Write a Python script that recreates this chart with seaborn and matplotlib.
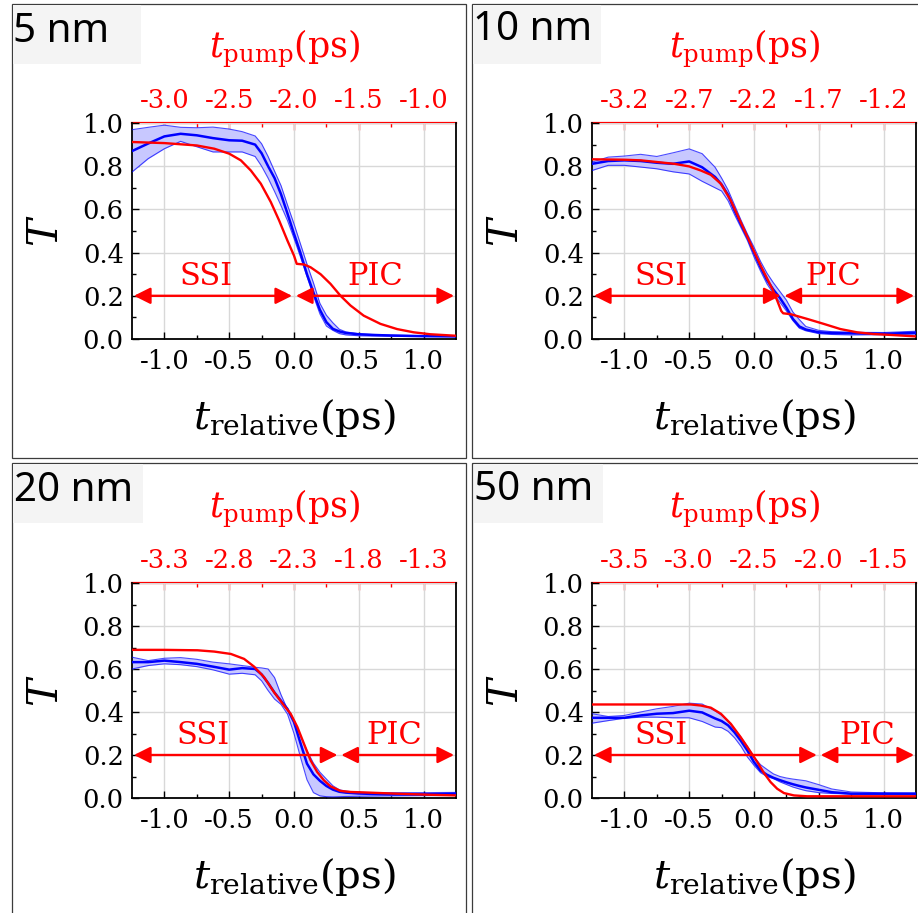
import numpy as np
import matplotlib
matplotlib.use("Agg")
import matplotlib.pyplot as plt
import seaborn as sns
from matplotlib.patches import Rectangle

# ---------------------------------------------------------------------------
# Data
# ---------------------------------------------------------------------------
panel_labels = ["5 nm", "10 nm", "20 nm", "50 nm"]
pump_offsets = [-2.0, -2.2, -2.3, -2.5]          # t_pump = t_relative + offset
region_bounds = [0.0, 0.22, 0.35, 0.5]           # SSI / PIC boundary (ps)
ssi_label_x = [-0.68, -0.72, -0.70, -0.72]
pic_label_x = [0.63, 0.61, 0.77, 0.87]

x_major = [-1.0, -0.5, 0.0, 0.5, 1.0]
x_major_labels = ["-1.0", "-0.5", "0.0", "0.5", "1.0"]
x_minor = [-0.75, -0.25, 0.25, 0.75]
y_major = [0.0, 0.2, 0.4, 0.6, 0.8, 1.0]
y_major_labels = ["0.0", "0.2", "0.4", "0.6", "0.8", "1.0"]
y_minor = [0.1, 0.3, 0.5, 0.7, 0.9]

# time grid of the measured (blue) curves
t_meas = [-1.25, -1.125, -1.0, -0.875, -0.75, -0.625, -0.5, -0.4, -0.3, -0.25,
          -0.2, -0.15, -0.1, -0.05, 0.0, 0.05, 0.1, 0.15, 0.2, 0.25, 0.3,
          0.35, 0.4, 0.5, 0.6, 0.75, 1.0, 1.25]

# 5 nm
meas_mean_5 = [0.87, 0.905, 0.938, 0.95, 0.943, 0.93, 0.92, 0.918, 0.90, 0.86,
               0.80, 0.745, 0.67, 0.58, 0.487, 0.398, 0.30, 0.215, 0.135, 0.078,
               0.047, 0.035, 0.028, 0.022, 0.019, 0.016, 0.013, 0.012]
meas_hi_5 = [0.969, 0.98, 0.99, 0.98, 0.978, 0.981, 0.972, 0.96, 0.94, 0.904,
             0.845, 0.777, 0.71, 0.62, 0.533, 0.44, 0.347, 0.26, 0.165, 0.11,
             0.075, 0.045, 0.033, 0.024, 0.021, 0.018, 0.015, 0.013]
meas_lo_5 = [0.773, 0.835, 0.881, 0.915, 0.89, 0.866, 0.866, 0.866, 0.845, 0.80,
             0.745, 0.683, 0.617, 0.548, 0.466, 0.38, 0.29, 0.20, 0.116, 0.06,
             0.04, 0.025, 0.019, 0.015, 0.014, 0.013, 0.012, 0.011]
model_t_5 = [-1.25, -1.0, -0.75, -0.615, -0.5, -0.41, -0.333, -0.256, -0.179,
             -0.115, -0.051, 0.0, 0.021, 0.077, 0.128, 0.205, 0.282, 0.359,
             0.436, 0.538, 0.667, 0.795, 0.923, 1.051, 1.25]
model_T_5 = [0.912, 0.907, 0.896, 0.881, 0.858, 0.827, 0.78, 0.719, 0.634,
             0.549, 0.456, 0.386, 0.348, 0.345, 0.332, 0.30, 0.255, 0.20,
             0.155, 0.108, 0.07, 0.046, 0.031, 0.022, 0.015]

# 10 nm
meas_mean_10 = [0.811, 0.824, 0.827, 0.824, 0.816, 0.811, 0.822, 0.795, 0.75, 0.715,
                0.667, 0.595, 0.53, 0.47, 0.40, 0.333, 0.273, 0.228, 0.19, 0.145,
                0.093, 0.058, 0.044, 0.031, 0.028, 0.027, 0.024, 0.029]
meas_hi_10 = [0.819, 0.842, 0.847, 0.855, 0.845, 0.862, 0.88, 0.858, 0.795, 0.745,
              0.69, 0.62, 0.55, 0.485, 0.425, 0.36, 0.305, 0.26, 0.22, 0.18,
              0.125, 0.09, 0.058, 0.04, 0.034, 0.031, 0.03, 0.036]
meas_lo_10 = [0.78, 0.804, 0.804, 0.796, 0.788, 0.774, 0.764, 0.73, 0.70, 0.685,
              0.64, 0.575, 0.515, 0.455, 0.38, 0.315, 0.255, 0.21, 0.17, 0.13,
              0.085, 0.05, 0.038, 0.025, 0.021, 0.019, 0.02, 0.023]
model_t_10 = [-1.25, -1.0, -0.872, -0.744, -0.615, -0.5, -0.41, -0.333, -0.256,
              -0.179, -0.103, -0.026, 0.051, 0.103, 0.141, 0.179, 0.21, 0.225,
              0.282, 0.41, 0.538, 0.667, 0.795, 0.923, 1.051, 1.25]
model_T_10 = [0.832, 0.83, 0.827, 0.819, 0.811, 0.799, 0.78, 0.76, 0.719,
              0.641, 0.541, 0.44, 0.34, 0.278, 0.232, 0.178, 0.13, 0.119,
              0.115, 0.093, 0.07, 0.046, 0.031, 0.023, 0.019, 0.012]

# 20 nm
meas_mean_20 = [0.632, 0.632, 0.639, 0.632, 0.624, 0.611, 0.597, 0.604, 0.60, 0.575,
                0.535, 0.49, 0.452, 0.414, 0.353, 0.255, 0.16, 0.11, 0.08, 0.056,
                0.039, 0.029, 0.025, 0.021, 0.019, 0.017, 0.017, 0.02]
meas_hi_20 = [0.655, 0.639, 0.65, 0.653, 0.645, 0.632, 0.624, 0.616, 0.608, 0.605,
              0.60, 0.56, 0.48, 0.412, 0.36, 0.29, 0.22, 0.162, 0.12, 0.088,
              0.057, 0.038, 0.032, 0.026, 0.025, 0.025, 0.025, 0.026]
meas_lo_20 = [0.60, 0.616, 0.624, 0.62, 0.611, 0.596, 0.576, 0.58, 0.573, 0.545,
              0.50, 0.46, 0.435, 0.39, 0.30, 0.19, 0.085, 0.025, 0.01, 0.006,
              0.005, 0.006, 0.007, 0.008, 0.009, 0.01, 0.011, 0.012]
model_t_20 = [-1.25, -1.0, -0.744, -0.615, -0.487, -0.385, -0.308, -0.231, -0.154,
              -0.077, -0.026, 0.026, 0.077, 0.128, 0.179, 0.231, 0.282, 0.359,
              0.436, 0.538, 0.795, 1.051, 1.25]
model_T_20 = [0.689, 0.689, 0.687, 0.681, 0.67, 0.647, 0.611, 0.562, 0.492,
              0.43, 0.392, 0.33, 0.252, 0.175, 0.121, 0.082, 0.054, 0.033,
              0.028, 0.026, 0.02, 0.015, 0.012]

# 50 nm
meas_mean_50 = [0.373, 0.373, 0.373, 0.384, 0.392, 0.395, 0.406, 0.398, 0.37, 0.358,
                0.338, 0.305, 0.265, 0.22, 0.167, 0.128, 0.108, 0.094, 0.083, 0.073,
                0.064, 0.056, 0.049, 0.038, 0.027, 0.02, 0.02, 0.02]
meas_hi_50 = [0.392, 0.379, 0.384, 0.40, 0.415, 0.426, 0.441, 0.437, 0.405, 0.385,
              0.357, 0.32, 0.282, 0.24, 0.19, 0.155, 0.133, 0.112, 0.10, 0.093,
              0.088, 0.084, 0.08, 0.062, 0.042, 0.028, 0.024, 0.023]
meas_lo_50 = [0.348, 0.36, 0.371, 0.376, 0.376, 0.373, 0.373, 0.356, 0.33, 0.327,
              0.31, 0.28, 0.24, 0.19, 0.152, 0.118, 0.10, 0.09, 0.075, 0.063,
              0.051, 0.042, 0.034, 0.025, 0.021, 0.019, 0.018, 0.017]
model_t_50 = [-1.25, -0.487, -0.41, -0.333, -0.256, -0.179, -0.103, -0.026, 0.026,
              0.077, 0.128, 0.179, 0.231, 0.308, 0.41, 1.25]
model_T_50 = [0.435, 0.435, 0.43, 0.42, 0.392, 0.345, 0.283, 0.214, 0.167,
              0.116, 0.074, 0.043, 0.023, 0.012, 0.008, 0.008]

meas_mean = [meas_mean_5, meas_mean_10, meas_mean_20, meas_mean_50]
meas_hi = [meas_hi_5, meas_hi_10, meas_hi_20, meas_hi_50]
meas_lo = [meas_lo_5, meas_lo_10, meas_lo_20, meas_lo_50]
model_t = [model_t_5, model_t_10, model_t_20, model_t_50]
model_T = [model_T_5, model_T_10, model_T_20, model_T_50]

# ---------------------------------------------------------------------------
# Style
# ---------------------------------------------------------------------------
sns.set_theme(style="white")
plt.rcParams["font.family"] = ["DejaVu Serif"]
plt.rcParams["mathtext.fontset"] = "dejavuserif"

W, H = 918, 913
fig = plt.figure(figsize=(W / 100, H / 100), dpi=100)
fig.patch.set_facecolor("white")


def fx(px):
    return px / W


def fy(py):
    return 1 - py / H


RED = "#ff0000"
BLUE = "#0000ff"
FILL = "#c8c8ff"
GRID = "#d8d8d8"
TICK_FS = 18.5

# panel layout in pixels: (axes left, axes top, axes bottom)
axes_px = [(132, 123, 339), (592, 123, 339), (132, 583, 798), (592, 583, 798)]
frame_px = [(12, 4, 466, 458.5), (472, 4, 930, 458.5),
            (12, 463.5, 466, 930), (472, 463.5, 930, 930)]
tagbox_px = [(13, 5, 141, 64), (473, 5, 601, 64),
             (13, 464, 143, 523), (474, 464, 603, 523)]
tag_text_px = [(13, 42), (473, 40), (14, 501), (474, 500)]

for i in range(4):
    # framing box around each panel
    x0, y0, x1, y1 = frame_px[i]
    fig.add_artist(Rectangle((fx(x0), fy(y1)), fx(x1) - fx(x0), fy(y0) - fy(y1),
                             transform=fig.transFigure, fill=False,
                             edgecolor="#3c3c3c", linewidth=0.9, zorder=0))
    # shaded tag box with thickness label
    bx0, by0, bx1, by1 = tagbox_px[i]
    fig.add_artist(Rectangle((fx(bx0), fy(by1)), fx(bx1) - fx(bx0), fy(by0) - fy(by1),
                             transform=fig.transFigure, facecolor="#f4f4f4",
                             edgecolor="none", zorder=0))
    tx, ty = tag_text_px[i]
    fig.text(fx(tx), fy(ty), panel_labels[i], family=["Noto Sans", "DejaVu Sans"],
             fontsize=29, color="black", ha="left", va="baseline")

    left, top, bottom = axes_px[i]
    ax = fig.add_axes([fx(left), fy(bottom), 324 / W, (bottom - top) / H])
    ax.set_facecolor("white")

    t = np.array(t_meas)
    ax.fill_between(t, meas_lo[i], meas_hi[i], color=FILL, linewidth=0, zorder=2)
    sns.lineplot(x=t, y=meas_hi[i], ax=ax, color=BLUE, linewidth=0.8, alpha=0.7,
                 estimator=None, sort=False, zorder=3)
    sns.lineplot(x=t, y=meas_lo[i], ax=ax, color=BLUE, linewidth=0.8, alpha=0.7,
                 estimator=None, sort=False, zorder=3)
    sns.lineplot(x=t, y=meas_mean[i], ax=ax, color=BLUE, linewidth=1.8,
                 estimator=None, sort=False, zorder=4)
    sns.lineplot(x=model_t[i], y=model_T[i], ax=ax, color=RED, linewidth=1.7,
                 estimator=None, sort=False, zorder=5)

    # SSI / PIC region arrows
    b = region_bounds[i]
    arrow_kw = dict(arrowstyle="<|-|>,head_length=1.0,head_width=0.5", color=RED,
                    lw=1.7, mutation_scale=10, shrinkA=0, shrinkB=0)
    ax.annotate("", xy=(b - 0.015, 0.2), xytext=(-1.235, 0.2),
                arrowprops=arrow_kw, zorder=6)
    ax.annotate("", xy=(1.235, 0.2), xytext=(b + 0.015, 0.2),
                arrowprops=arrow_kw, zorder=6)
    ax.text(ssi_label_x[i], 0.25, "SSI", color=RED, fontsize=22,
            ha="center", va="baseline", zorder=6)
    ax.text(pic_label_x[i], 0.25, "PIC", color=RED, fontsize=22,
            ha="center", va="baseline", zorder=6)

    ax.set_xlim(-1.25, 1.25)
    ax.set_ylim(0.0, 1.0)
    ax.set_xticks(x_major, x_major_labels)
    ax.set_xticks(x_minor, minor=True)
    ax.set_yticks(y_major, y_major_labels)
    ax.set_yticks(y_minor, minor=True)
    ax.grid(True, which="major", color=GRID, linewidth=1.0, zorder=0)
    ax.set_axisbelow(True)
    ax.tick_params(axis="both", which="major", direction="in", length=5, width=1,
                   color="black", labelsize=TICK_FS, labelcolor="black")
    ax.tick_params(axis="both", which="minor", direction="in", length=3, width=1,
                   color="black")
    ax.tick_params(axis="x", which="both", bottom=True, top=False, pad=7)
    ax.tick_params(axis="y", which="both", left=True, right=False, pad=6)

    for side in ("left", "bottom", "right"):
        ax.spines[side].set_color("black")
        ax.spines[side].set_linewidth(1.3)
        ax.spines[side].set_visible(True)
    ax.spines["top"].set_visible(False)

    ax.set_xlabel(r"$t_{\mathrm{relative}}$(ps)", fontsize=29, color="black")
    ax.xaxis.set_label_coords(0.5, -0.27)
    ax.set_ylabel(r"$T$", fontsize=30, color="black")
    ax.yaxis.set_label_coords(-0.20, 0.5)

    # pump-delay axis on top
    off = pump_offsets[i]
    sec = ax.secondary_xaxis("top", functions=(lambda x, o=off: x + o,
                                               lambda x, o=off: x - o))
    pump_major = [v + off for v in x_major]
    sec.set_xticks(pump_major, [f"{v:.1f}" for v in pump_major])
    sec.set_xticks([v + off for v in x_minor], minor=True)
    sec.tick_params(axis="x", which="major", direction="in", length=5, width=1,
                    colors=RED, labelsize=TICK_FS, pad=7)
    sec.tick_params(axis="x", which="minor", direction="in", length=3, width=1,
                    colors=RED)
    sec.spines["top"].set_color(RED)
    sec.spines["top"].set_linewidth(1.6)
    ax.text(0.47, 1.245, r"$t_{\mathrm{pump}}$(ps)", transform=ax.transAxes,
            fontsize=25, color=RED, ha="center", va="bottom")

fig.savefig("out.png", dpi=100, facecolor="white")
